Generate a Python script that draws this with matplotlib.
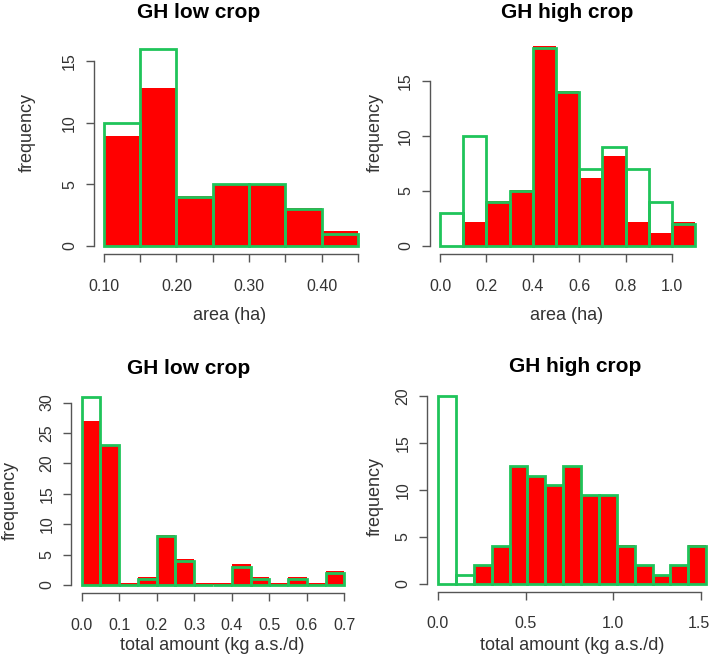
import numpy as np
import matplotlib
matplotlib.use("Agg")
import matplotlib.pyplot as plt

plt.rcParams['font.family'] = ['Liberation Sans', 'DejaVu Sans']

W, H = 709, 656

# top-left: area, low crop
area_low_edges = [0.10, 0.15, 0.20, 0.25, 0.30, 0.35, 0.40, 0.45]
area_low_red = [8.9, 12.8, 4.05, 5.0, 5.0, 3.1, 1.2]
area_low_green = [10, 16, 4, 5, 5, 3, 1]

# top-right: area, high crop
area_high_edges = [0.0, 0.1, 0.2, 0.3, 0.4, 0.5, 0.6, 0.7, 0.8, 0.9, 1.0, 1.1]
area_high_red = [0, 2.2, 4.1, 5.1, 18.2, 14.1, 6.2, 8.2, 2.2, 1.2, 2.2]
area_high_green = [3, 10, 4, 5, 18, 14, 7, 9, 7, 4, 2]

# bottom-left: total amount, low crop
amt_low_edges = [0.0, 0.05, 0.1, 0.15, 0.2, 0.25, 0.3, 0.35, 0.4, 0.45,
                 0.5, 0.55, 0.6, 0.65, 0.7]
amt_low_red = [27, 23, 0.3, 1.3, 8.3, 4.3, 0.3, 0.3, 3.4, 1.3, 0.3, 1.3,
               0.3, 2.3]
amt_low_green = [31, 23, 0, 1, 8, 4, 0, 0, 3, 1, 0, 1, 0, 2]

# bottom-right: total amount, high crop
amt_high_edges = [0.0, 0.102, 0.204, 0.306, 0.408, 0.51, 0.612, 0.714,
                  0.816, 0.918, 1.02, 1.122, 1.224, 1.326, 1.428, 1.53]
amt_high_red = [0, 0, 2, 4, 12.5, 11.4, 10.4, 12.5, 9.3, 9.3, 4.1, 2, 1,
                2, 4.1]
amt_high_green = [20, 1, 2, 4, 12.5, 11.5, 10.5, 12.5, 9.4, 9.4, 4, 2, 1,
                  2, 4]

RED = '#ff0000'
GREEN = '#1fc45a'
AXC = '#555555'
TXC = '#333333'


def px_axes(fig, left, right, top, bottom):
    """axes from pixel box"""
    return fig.add_axes([left / W, 1 - bottom / H,
                         (right - left) / W, (bottom - top) / H])


def draw(ax, edges, red, green, xlim, ylim, xticks, xlabels, yticks):
    edges = np.array(edges)
    widths = np.diff(edges)
    ax.bar(edges[:-1], red, widths, align='edge', color=RED,
           edgecolor='none', zorder=2)
    ax.bar(edges[:-1], green, widths, align='edge', facecolor='none',
           edgecolor=GREEN, linewidth=2.0, zorder=3)
    ax.set_xlim(*xlim)
    ax.set_ylim(*ylim)
    for s in ['top', 'right']:
        ax.spines[s].set_visible(False)
    for s in ['left', 'bottom']:
        ax.spines[s].set_color(AXC)
        ax.spines[s].set_linewidth(1.0)
    ax.spines['bottom'].set_bounds(xticks[0], xticks[-1])
    ax.spines['left'].set_bounds(yticks[0], yticks[-1])
    ax.set_xticks(xticks)
    ax.set_xticklabels(xlabels)
    ax.set_yticks(yticks)
    ax.set_yticklabels([str(v) for v in yticks], rotation=90,
                       va='center')
    ax.tick_params(axis='both', length=6, width=1.0, color=AXC,
                   labelcolor=TXC, labelsize=11.5)
    ax.tick_params(axis='x', pad=12)
    ax.tick_params(axis='y', pad=6)
    ax.patch.set_visible(False)


fig = plt.figure(figsize=(W / 100, H / 100), dpi=100)

ax1 = px_axes(fig, 93.8, 368, 40.8, 253.9)
draw(ax1, area_low_edges, area_low_red, area_low_green,
     (0.086, 0.464), (-0.64, 16.64),
     [0.10, 0.15, 0.20, 0.25, 0.30, 0.35, 0.40, 0.45],
     ['0.10', '', '0.20', '', '0.30', '', '0.40', ''],
     [0, 5, 10, 15])

ax2 = px_axes(fig, 429.8, 705.4, 40.1, 253.9)
draw(ax2, area_high_edges, area_high_red, area_high_green,
     (-0.044, 1.144), (-0.72, 18.72),
     [0.0, 0.2, 0.4, 0.6, 0.8, 1.0],
     ['0.0', '0.2', '0.4', '0.6', '0.8', '1.0'],
     [0, 5, 10, 15])

ax3 = px_axes(fig, 71.2, 354.8, 389.0, 592.5)
draw(ax3, amt_low_edges, amt_low_red, amt_low_green,
     (-0.028, 0.728), (-1.24, 32.24),
     [0.0, 0.1, 0.2, 0.3, 0.4, 0.5, 0.6, 0.7],
     ['0.0', '0.1', '0.2', '0.3', '0.4', '0.5', '0.6', '0.7'],
     [0, 5, 10, 15, 20, 25, 30])

ax4 = px_axes(fig, 427.3, 716.9, 388.2, 591.5)
draw(ax4, amt_high_edges, amt_high_red, amt_high_green,
     (-0.061, 1.591), (-0.8, 20.8),
     [0.0, 0.5, 1.0, 1.5],
     ['0.0', '0.5', '1.0', '1.5'],
     [0, 5, 10, 15, 20])
# last label sits against the right edge of the picture
last = ax4.get_xticklabels()[-1]
last.set_horizontalalignment('right')
last.set_x(1.5)
import matplotlib.transforms as mtrans
for lab in ax4.get_xticklabels()[-1:]:
    lab.set_transform(lab.get_transform() +
                      mtrans.ScaledTranslation(9 / 100, 0,
                                               fig.dpi_scale_trans))


# titles and axis labels placed in pixel coordinates
def ftext(x, y, s, **kw):
    fig.text(x / W, 1 - y / H, s, ha='center', va='center', **kw)


ftext(199, 12, 'GH low crop', fontsize=15, fontweight='bold')
ftext(567, 12, 'GH high crop', fontsize=15, fontweight='bold')
ftext(189, 368, 'GH low crop', fontsize=15, fontweight='bold')
ftext(575, 367, 'GH high crop', fontsize=15, fontweight='bold')

ftext(230, 315, 'area (ha)', fontsize=13, color=TXC)
ftext(567, 315, 'area (ha)', fontsize=13, color=TXC)
ftext(212, 645, 'total amount (kg a.s./d)', fontsize=13, color=TXC)
ftext(572, 645, 'total amount (kg a.s./d)', fontsize=13, color=TXC)

ftext(27, 133, 'frequency', fontsize=13, color=TXC, rotation=90)
ftext(375, 133, 'frequency', fontsize=13, color=TXC, rotation=90)
ftext(10, 501, 'frequency', fontsize=13, color=TXC, rotation=90)
ftext(375, 496, 'frequency', fontsize=13, color=TXC, rotation=90)

fig.savefig('out.png', dpi=100)
